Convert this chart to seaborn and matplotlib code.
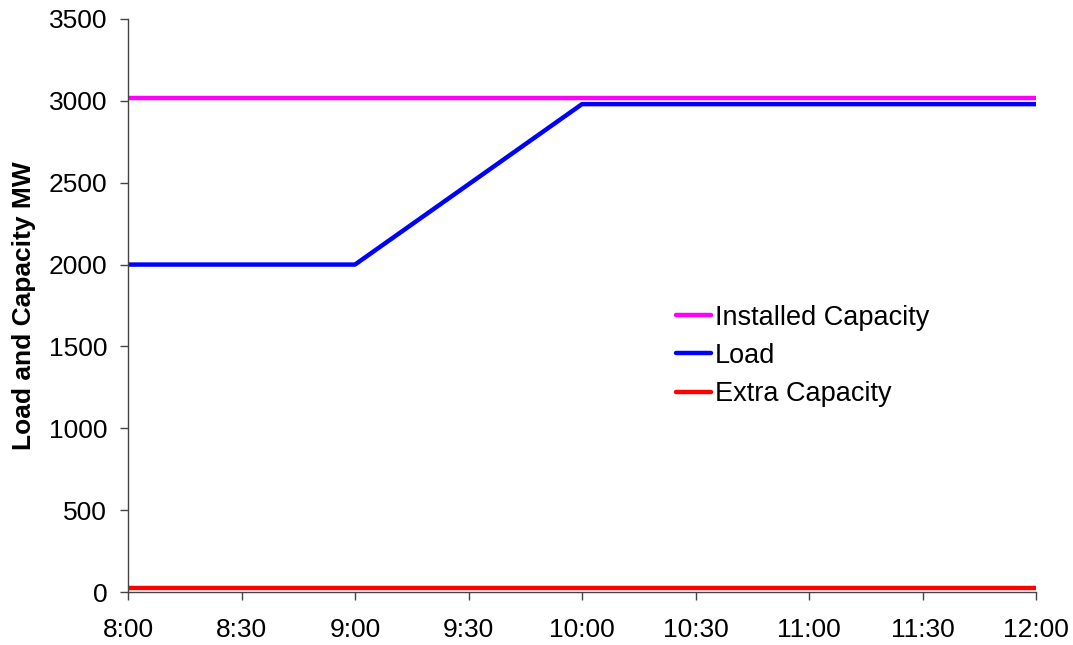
import pandas as pd
import numpy as np
import seaborn as sns
import matplotlib.pyplot as plt

# values
times = ["8:00", "9:00", "10:00", "12:00"]
installed = [3020, 3020, 3020, 3020]
load = [2000, 2000, 2980, 2980]
extra = [25, 25, 25, 25]

tick_labels = ["8:00", "8:30", "9:00", "9:30", "10:00", "10:30", "11:00", "11:30", "12:00"]


def to_hours(t):
    h, m = t.split(":")
    return int(h) + int(m) / 60.0


hours = [to_hours(t) for t in times]
df = pd.DataFrame({
    "time": hours * 3,
    "MW": installed + load + extra,
    "series": ["Installed Capacity"] * 4 + ["Load"] * 4 + ["Extra Capacity"] * 4,
})

sns.set_style("ticks")
plt.rcParams["font.family"] = ["Liberation Sans", "DejaVu Sans"]
plt.rcParams["text.color"] = "black"
plt.rcParams["axes.labelcolor"] = "black"

fig = plt.figure(figsize=(10.73, 6.45), dpi=100)
ax = fig.add_axes([128 / 1073, 1 - 592 / 645, 908 / 1073, 573 / 645])

palette = {"Installed Capacity": "#ff00ff", "Load": "#0000ff", "Extra Capacity": "#ff0000"}
sns.lineplot(data=df, x="time", y="MW", hue="series", palette=palette,
             hue_order=["Installed Capacity", "Load", "Extra Capacity"],
             linewidth=3.2, ax=ax)

ax.set_xlim(8, 12)
ax.set_ylim(0, 3500)
ax.set_xticks([to_hours(t) for t in tick_labels])
ax.set_xticklabels(tick_labels)
ax.set_yticks(np.arange(0, 3501, 500))
ax.tick_params(labelsize=19, length=6, width=1, color="#444444", labelcolor="black")
ax.tick_params(axis="x", pad=13)
ax.tick_params(axis="y", pad=9)
ax.set_xlabel("")
ax.set_ylabel("Load and Capacity MW", fontsize=19, fontweight="bold", labelpad=9, color="black")
for s in ["left", "bottom"]:
    ax.spines[s].set_color("#444444")
    ax.spines[s].set_linewidth(1)
sns.despine(ax=ax)

leg = ax.legend(loc="center left", bbox_to_anchor=(0.603, 0.412), frameon=False,
                fontsize=19.5, handlelength=1.3, handletextpad=0.15, labelspacing=0.45,
                borderpad=0, borderaxespad=0)
for t in leg.get_texts():
    t.set_color("black")

fig.savefig("out.png", dpi=100)
